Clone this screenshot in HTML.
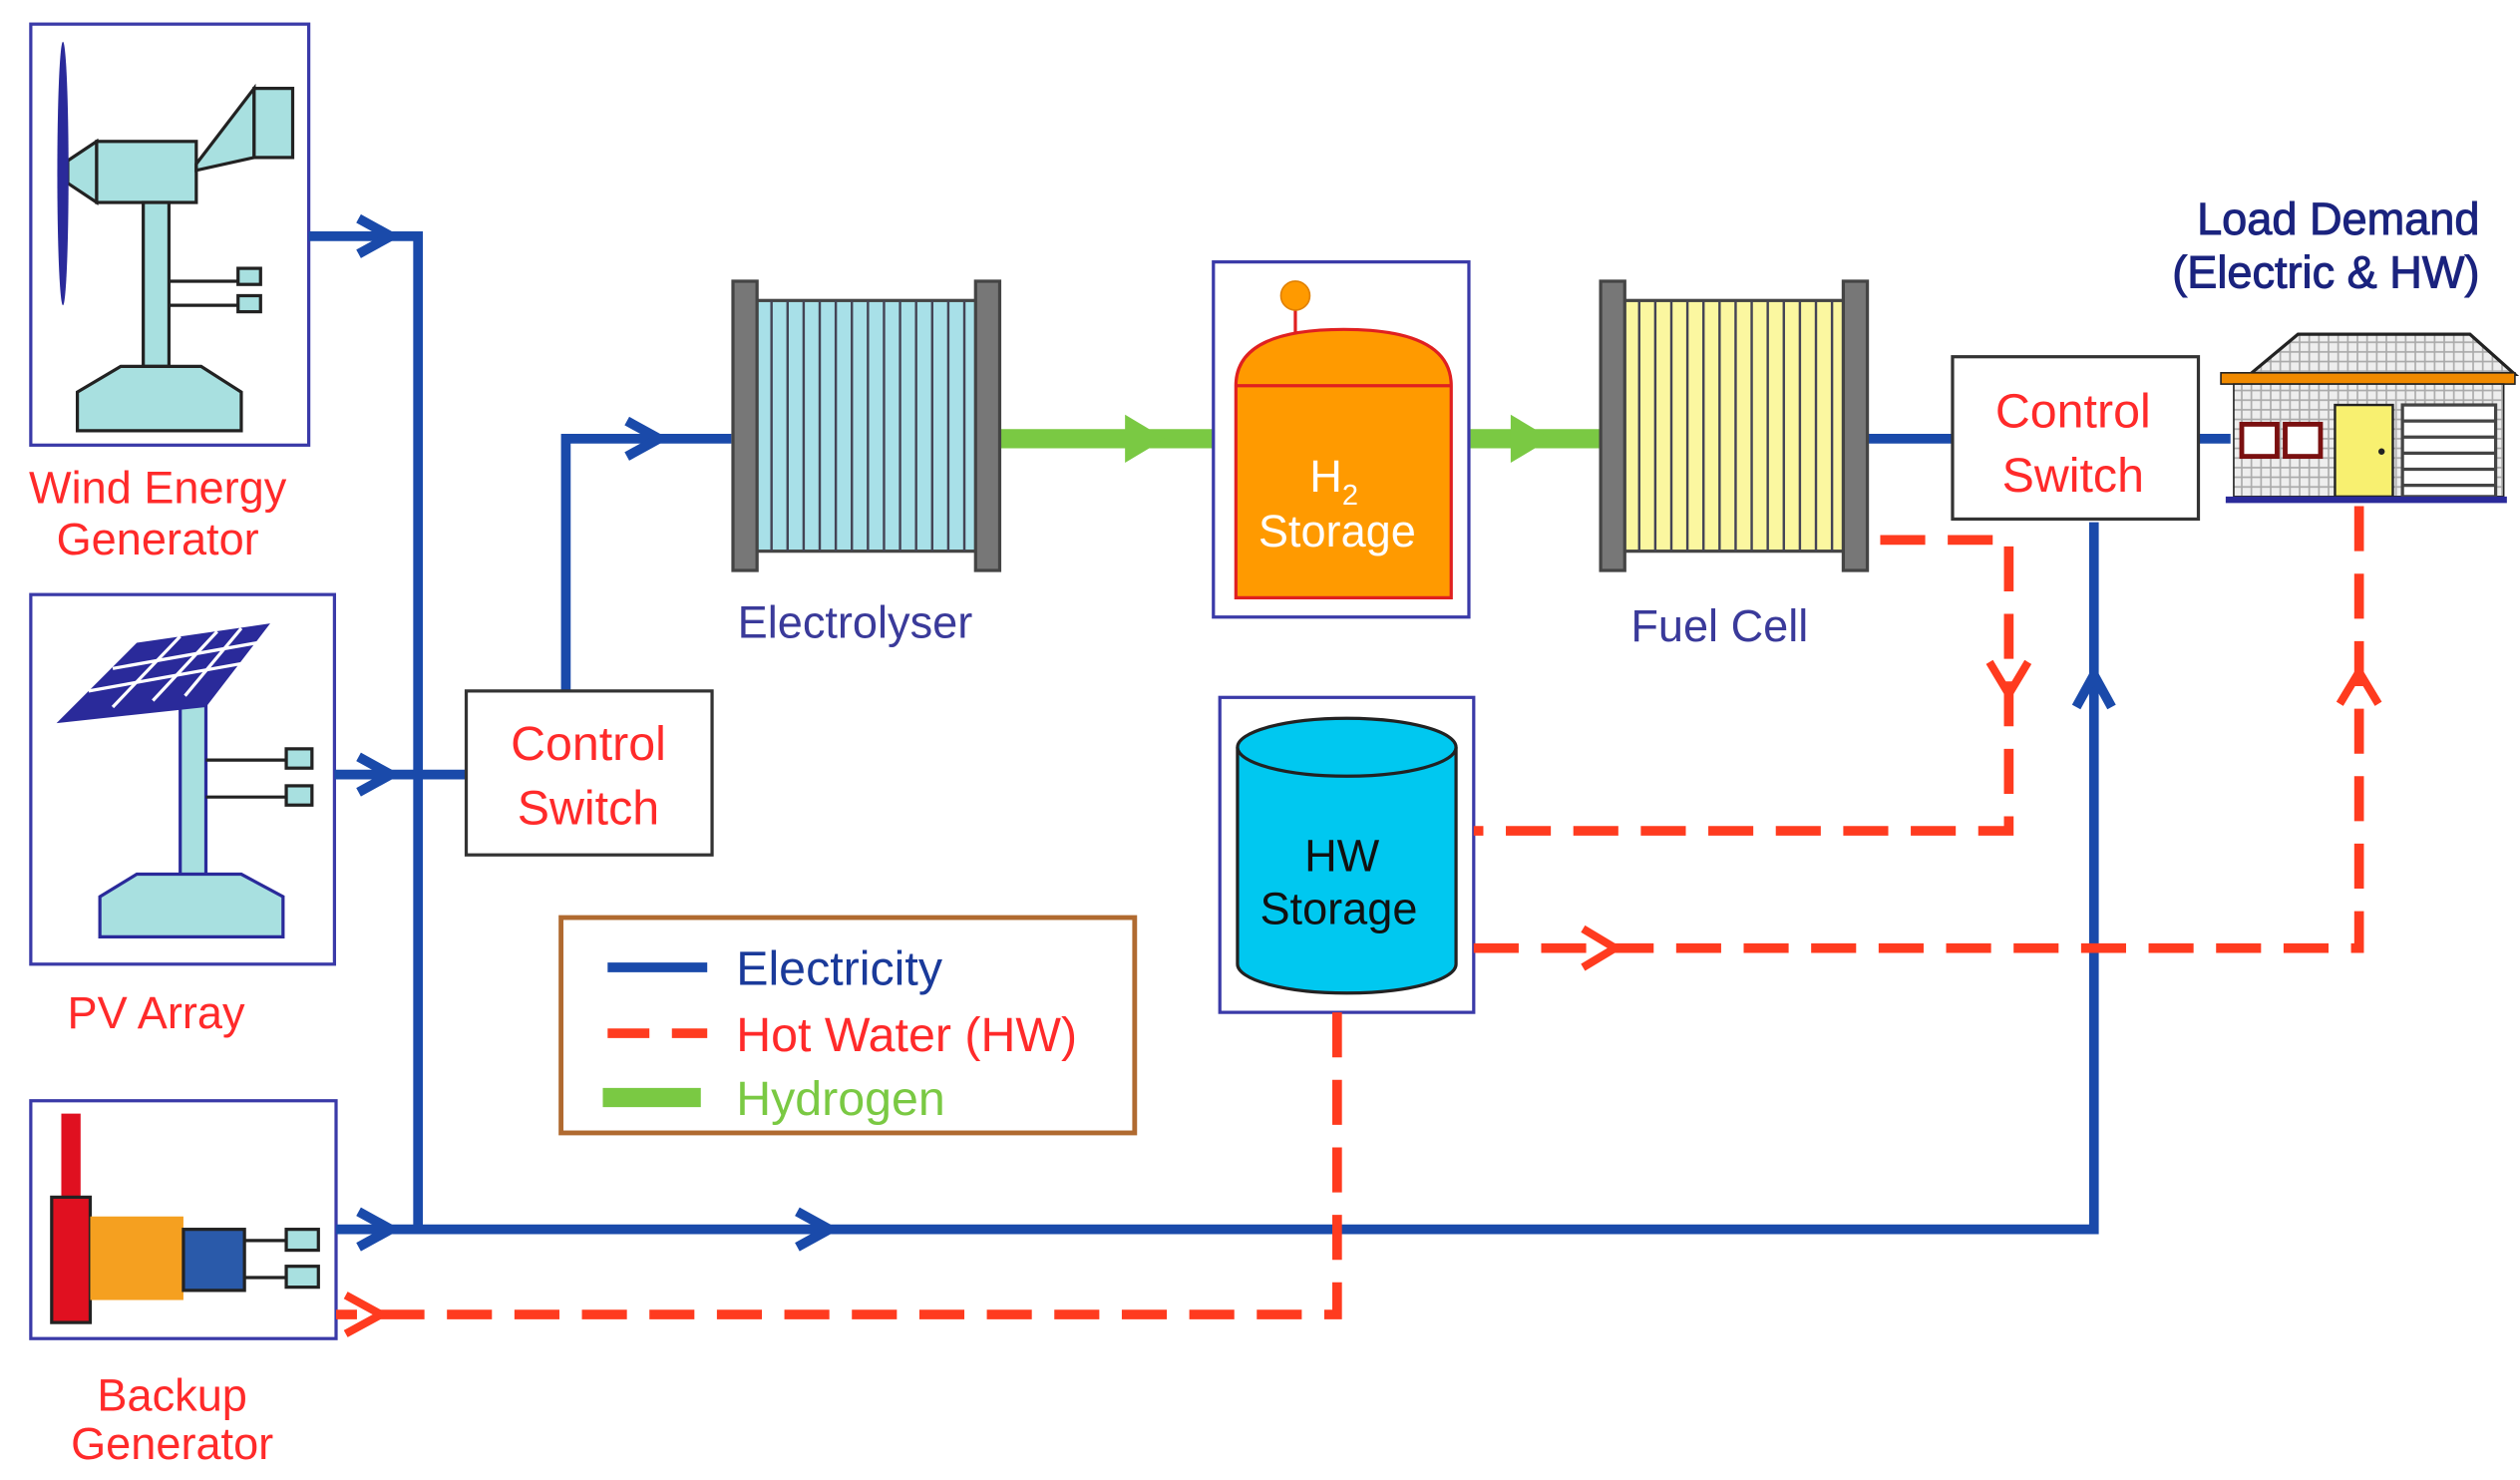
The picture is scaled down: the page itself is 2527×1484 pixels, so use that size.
<!DOCTYPE html>
<html><head><meta charset="utf-8"><style>html,body{margin:0;padding:0;background:#fff}svg{display:block}</style></head>
<body>
<svg width="2527" height="1484" viewBox="0 0 1568 921" xmlns="http://www.w3.org/2000/svg" font-family="Liberation Sans, sans-serif">
<defs>
<pattern id="grid" width="6" height="6" patternUnits="userSpaceOnUse"><rect width="6" height="6" fill="#eee"/><path d="M0 3H6M3 0V6" stroke="#aaa" stroke-width="1"/></pattern>
</defs>
<rect width="1568" height="921" fill="#fff"/>

<!-- Wind box -->
<rect x="19" y="15" width="173" height="262" fill="#fff" stroke="#3a3aa8" stroke-width="2"/>
<g stroke="#222" stroke-width="2" fill="#a8e0e0">
<path d="M42 100 L60 88 L60 126 L42 114Z"/>
<rect x="60" y="88" width="62" height="38"/>
<path d="M122 102 L158 55 L158 98 L122 106Z"/>
<rect x="158" y="55" width="24" height="43"/>
<rect x="89" y="126" width="16" height="102"/>
<path d="M48 244 L75 228 L125 228 L150 244 L150 268 L48 268Z"/>
<path d="M105 175H150M105 190H150" fill="none"/>
<rect x="148" y="167" width="14" height="10"/><rect x="148" y="184" width="14" height="10"/>
</g>
<ellipse cx="39" cy="108" rx="3.5" ry="82" fill="#2a2a9a"/>
<text x="98" y="313" font-size="28" fill="#ff2a2a" text-anchor="middle">Wind Energy</text>
<text x="98" y="345" font-size="28" fill="#ff2a2a" text-anchor="middle">Generator</text>

<!-- PV box -->
<rect x="19" y="370" width="189" height="230" fill="#fff" stroke="#3a3aa8" stroke-width="2"/>
<g stroke="#2a2a9a" stroke-width="2" fill="#a8e0e0">
<rect x="112" y="430" width="16" height="120"/>
<path d="M62 558 L85 544 L150 544 L176 558 L176 583 L62 583Z"/>
</g>
<path d="M35 450 L85 400 L168 388 L128 440Z" fill="#2a2a9a"/>
<g stroke="#fff" stroke-width="2"><path d="M55 430 L150 413M70 416 L160 400"/><path d="M70 440 L112 396M95 436 L135 393M115 433 L150 391"/></g>
<g stroke="#222" stroke-width="2" fill="#a8e0e0"><path d="M128 473H180M128 496H180" fill="none"/><rect x="178" y="466" width="16" height="12"/><rect x="178" y="489" width="16" height="12"/></g>
<text x="97" y="640" font-size="28" fill="#ff2a2a" text-anchor="middle">PV Array</text>

<!-- Backup box -->
<rect x="19" y="685" width="190" height="148" fill="#fff" stroke="#3a3aa8" stroke-width="2"/>
<rect x="38" y="693" width="12" height="55" fill="#e01020"/>
<rect x="32" y="745" width="24" height="78" fill="#e01020" stroke="#222" stroke-width="2"/>
<rect x="56" y="757" width="58" height="52" fill="#f5a020"/>
<rect x="114" y="765" width="38" height="38" fill="#2a5aaa" stroke="#222" stroke-width="2"/>
<g stroke="#222" stroke-width="2" fill="#a8e0e0"><path d="M152 772H180M152 795H180" fill="none"/><rect x="178" y="765" width="20" height="13"/><rect x="178" y="788" width="20" height="13"/></g>
<text x="107" y="878" font-size="28" fill="#ff2a2a" text-anchor="middle">Backup</text>
<text x="107" y="908" font-size="28" fill="#ff2a2a" text-anchor="middle">Generator</text>

<!-- Blue electricity lines -->
<g stroke="#1a4aaa" stroke-width="6" fill="none">
<path d="M192 147H260V765"/>
<path d="M208 482H290"/>
<path d="M209 765H1303V325"/>
<path d="M352 430V273H455"/>
<path d="M1162 273H1215"/>
<path d="M1368 273H1388"/>
<path d="M223 136L243 147L223 158M223 471L243 482L223 493M223 754L243 765L223 776M496 754L516 765L496 776M390 262L410 273L390 284M1292 440L1303 420L1314 440"/>
</g>

<!-- Control Switch 1 -->
<rect x="290" y="430" width="153" height="102" fill="#fff" stroke="#333" stroke-width="2"/>
<text x="366" y="473" font-size="30" fill="#ff2a2a" text-anchor="middle">Control</text>
<text x="366" y="513" font-size="30" fill="#ff2a2a" text-anchor="middle">Switch</text>

<!-- Green hydrogen -->
<g stroke="#7ac943" stroke-width="12" fill="none"><path d="M622 273H755M915 273H995"/></g>
<path d="M700 258L725 273L700 288Z M940 258L965 273L940 288Z" fill="#7ac943"/>

<!-- Electrolyser -->
<rect x="470" y="187" width="138" height="156" fill="#a8e0e8" stroke="#444" stroke-width="2"/>
<g stroke="#445" stroke-width="1.5"><path d="M480 187V343M490 187V343M500 187V343M510 187V343M520 187V343M530 187V343M540 187V343M550 187V343M560 187V343M570 187V343M580 187V343M590 187V343M600 187V343"/></g>
<rect x="456" y="175" width="15" height="180" fill="#777" stroke="#444" stroke-width="2"/>
<rect x="607" y="175" width="15" height="180" fill="#777" stroke="#444" stroke-width="2"/>
<text x="532" y="397" font-size="28" fill="#3a3a9a" text-anchor="middle">Electrolyser</text>

<!-- H2 Storage -->
<rect x="755" y="163" width="159" height="221" fill="#fff" stroke="#3a3aa8" stroke-width="2"/>
<path d="M769 372V240Q769 205 836 205Q903 205 903 240V372Z" fill="#ff9a00" stroke="#e02020" stroke-width="2"/>
<path d="M769 240H903" stroke="#e02020" stroke-width="2"/>
<path d="M806 188V207" stroke="#e02020" stroke-width="2"/>
<circle cx="806" cy="184" r="9" fill="#ff9a00" stroke="#e08000" stroke-width="1"/>
<text x="830" y="306" font-size="28" fill="#fff" text-anchor="middle">H<tspan font-size="18" dy="8">2</tspan></text>
<text x="832" y="340" font-size="28" fill="#fff" text-anchor="middle">Storage</text>

<!-- Fuel cell -->
<rect x="1010" y="187" width="138" height="156" fill="#fbf7a0" stroke="#444" stroke-width="2"/>
<g stroke="#445" stroke-width="1.5"><path d="M1020 187V343M1030 187V343M1040 187V343M1050 187V343M1060 187V343M1070 187V343M1080 187V343M1090 187V343M1100 187V343M1110 187V343M1120 187V343M1130 187V343M1140 187V343"/></g>
<rect x="996" y="175" width="15" height="180" fill="#777" stroke="#444" stroke-width="2"/>
<rect x="1147" y="175" width="15" height="180" fill="#777" stroke="#444" stroke-width="2"/>
<text x="1070" y="399" font-size="28" fill="#3a3a9a" text-anchor="middle">Fuel Cell</text>

<!-- Control Switch 2 -->
<rect x="1215" y="222" width="153" height="101" fill="#fff" stroke="#333" stroke-width="2"/>
<text x="1290" y="266" font-size="30" fill="#ff2a2a" text-anchor="middle">Control</text>
<text x="1290" y="306" font-size="30" fill="#ff2a2a" text-anchor="middle">Switch</text>

<!-- Load demand -->
<text x="1543" y="146" font-size="28" fill="#1a237e" text-anchor="end" stroke="#1a237e" stroke-width="0.6">Load Demand</text>
<text x="1543" y="179" font-size="28" fill="#1a237e" text-anchor="end" stroke="#1a237e" stroke-width="0.6">(Electric &amp; HW)</text>
<path d="M1400 233L1430 208H1537L1565 233Z" fill="url(#grid)" stroke="#222" stroke-width="2"/>
<rect x="1382" y="232" width="183" height="7" fill="#f08a00" stroke="#222" stroke-width="1"/>
<rect x="1390" y="239" width="168" height="70" fill="url(#grid)" stroke="#222" stroke-width="1"/>
<rect x="1395" y="264" width="22" height="20" fill="#fff" stroke="#7a1010" stroke-width="3"/>
<rect x="1422" y="264" width="22" height="20" fill="#fff" stroke="#7a1010" stroke-width="3"/>
<rect x="1453" y="252" width="36" height="57" fill="#f8f070" stroke="#222" stroke-width="1.5"/>
<circle cx="1482" cy="281" r="2" fill="#222"/>
<g stroke="#444" stroke-width="2"><rect x="1495" y="252" width="58" height="57" fill="#fff"/><path d="M1495 262H1553M1495 272H1553M1495 282H1553M1495 292H1553M1495 302H1553"/></g>
<path d="M1385 311H1560" stroke="#2a2a9a" stroke-width="4"/>

<!-- HW Storage -->
<rect x="759" y="434" width="158" height="196" fill="#fff" stroke="#3a3aa8" stroke-width="2"/>
<path d="M770 465V600A68 18 0 0 0 906 600V465" fill="#00c8f0" stroke="#222" stroke-width="2"/>
<ellipse cx="838" cy="465" rx="68" ry="18" fill="#00c8f0" stroke="#222" stroke-width="2"/>
<text x="835" y="542" font-size="28" fill="#111" text-anchor="middle">HW</text>
<text x="833" y="575" font-size="28" fill="#111" text-anchor="middle">Storage</text>

<!-- Red dashed hot water -->
<g stroke="#ff3b1f" stroke-width="6" fill="none" stroke-dasharray="28 14">
<path d="M1170 336H1250V517H917"/>
<path d="M917 590H1468V315"/>
<path d="M832 630V818H209"/>
</g>
<g stroke="#ff3b1f" stroke-width="5" fill="none">
<path d="M1238 412L1250 432L1262 412M1250 432V445"/>
<path d="M985 578L1005 590L985 602"/>
<path d="M1456 438L1468 418L1480 438"/>
<path d="M215 806L237 818L215 830"/>
</g>

<!-- Legend -->
<rect x="349" y="571" width="357" height="134" fill="#fff" stroke="#b06a30" stroke-width="3"/>
<path d="M378 602H440" stroke="#1a4aaa" stroke-width="6"/>
<path d="M378 643H440" stroke="#ff3b1f" stroke-width="6" stroke-dasharray="26 14"/>
<path d="M375 683H436" stroke="#7ac943" stroke-width="12"/>
<text x="458" y="613" font-size="30" fill="#1a3a9a">Electricity</text>
<text x="458" y="654" font-size="30" fill="#ff2a2a">Hot Water (HW)</text>
<text x="458" y="694" font-size="30" fill="#7ac943">Hydrogen</text>
</svg>
</body></html>
